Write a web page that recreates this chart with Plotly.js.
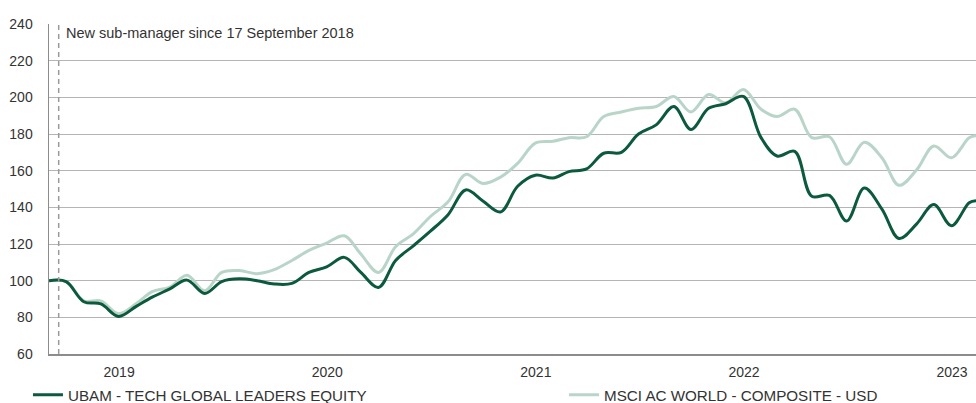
<!DOCTYPE html>
<html>
<head>
<meta charset="utf-8">
<script src="https://cdn.plot.ly/plotly-3.0.1.min.js"></script>
<style>
html,body{margin:0;padding:0;background:#fff;}
#chart{width:976px;height:403px;}
</style>
</head>
<body>
<div id="chart"></div>
<script>
const dates = [
 '2018-08-31','2018-09-30','2018-10-31','2018-11-30','2018-12-31',
 '2019-01-31','2019-02-28','2019-03-31','2019-04-30','2019-05-31','2019-06-30',
 '2019-07-31','2019-08-31','2019-09-30','2019-10-31','2019-11-30','2019-12-31',
 '2020-01-31','2020-02-29','2020-03-31','2020-04-30','2020-05-31','2020-06-30',
 '2020-07-31','2020-08-31','2020-09-30','2020-10-31','2020-11-30','2020-12-31',
 '2021-01-31','2021-02-28','2021-03-31','2021-04-30','2021-05-31','2021-06-30',
 '2021-07-31','2021-08-31','2021-09-30','2021-10-31','2021-11-30','2021-12-31',
 '2022-01-31','2022-02-28','2022-03-31','2022-04-30','2022-05-31','2022-06-30',
 '2022-07-31','2022-08-31','2022-09-30','2022-10-31','2022-11-30','2022-12-31',
 '2023-01-31','2023-02-12'
];
const ubam = [
 100, 99.5, 88.5, 87.3, 80.5,
 86, 91, 95.5, 100.3, 93, 99.5,
 101, 100, 98.2, 98.5, 104.5, 107.5,
 112.7, 104.5, 96.3, 111, 119, 127,
 136, 149.5, 143.5, 137.5, 151.5, 157.5,
 156, 159.5, 161, 169.5, 170, 180,
 185, 195, 182.5, 194, 196.5, 200.5,
 178, 168, 170.5, 146, 146.5, 132.5,
 150.5, 139, 123, 131, 141.5, 130,
 142.5, 143.6
];
const msci = [
 100, 99.5, 89, 89, 82,
 87.5, 94, 96.5, 103, 94.5, 104.5,
 105.5, 103.8, 106, 111, 116.5, 120.5,
 124.5, 114.5, 104.5, 118.5, 125.5, 135,
 143, 158, 153, 156.5, 164, 175,
 176, 178, 178.5, 189.5, 192, 194,
 195, 200.5, 192, 201.5, 197, 204.3,
 193.5, 189.5, 193.5, 178, 178.5, 163.5,
 175.5, 167, 152, 160.5, 173.5, 167,
 178, 179
];
const seriesNames = ['UBAM - TECH GLOBAL LEADERS EQUITY', 'MSCI AC WORLD - COMPOSITE - USD'];
const yearTicks = ['2019-01-01','2020-01-01','2021-01-01','2022-01-01','2023-01-01'];
const yearLabels = ['2019','2020','2021','2022','2023'];
const yTicks = [60,80,100,120,140,160,180,200,220,240];
const eventDate = '2018-09-17';
const eventText = 'New sub-manager since 17 September 2018';
const xRange = ['2018-08-31','2023-02-12'];

const FONT = '"Liberation Sans", Arial, Helvetica, sans-serif';

const traces = [
 {x: dates, y: msci, name: seriesNames[1], type: 'scatter', mode: 'lines', legend: 'legend2',
  line: {color: '#b9d5c9', width: 3, shape: 'spline', smoothing: 1}},
 {x: dates, y: ubam, name: seriesNames[0], type: 'scatter', mode: 'lines', legend: 'legend',
  line: {color: '#0b5a3d', width: 3, shape: 'spline', smoothing: 1}}
];

const legendBase = {orientation: 'h', xanchor: 'left', y: -0.124, yanchor: 'middle',
  bgcolor: 'rgba(0,0,0,0)', font: {family: FONT, size: 15.2, color: '#333'}, itemwidth: 30};

const layout = {
 width: 976, height: 403,
 margin: {l: 49, r: 0, t: 24, b: 49, pad: 0, autoexpand: false},
 paper_bgcolor: '#fff', plot_bgcolor: '#fff',
 font: {family: FONT, size: 14, color: '#333'},
 showlegend: true,
 legend: Object.assign({}, legendBase, {x: -0.0227}),
 legend2: Object.assign({}, legendBase, {x: 0.5556}),
 xaxis: {type: 'date', range: xRange, tickmode: 'array', tickvals: yearTicks, ticktext: yearLabels,
   showgrid: false, showline: true, linecolor: '#8c8c8c', linewidth: 1.5, ticks: '',
   zeroline: false, ticklabelstandoff: 5, fixedrange: true},
 yaxis: {range: [60, 240], tickmode: 'array', tickvals: yTicks, showgrid: true, gridcolor: '#b5b5b5',
   gridwidth: 1, showline: true, linecolor: '#8c8c8c', linewidth: 1.5, ticks: '', zeroline: false,
   ticklabelstandoff: 12, fixedrange: true},
 shapes: [
  {type: 'line', xref: 'x', yref: 'paper', x0: eventDate, x1: eventDate, y0: 0, y1: 1,
   line: {color: '#9a9a9a', width: 1.5, dash: '5px,4px'}}
 ],
 annotations: [
  {xref: 'x', yref: 'paper', x: eventDate, y: 1, xanchor: 'left', yanchor: 'top',
   xshift: 5, yshift: 1, showarrow: false, text: eventText,
   font: {family: FONT, size: 14.5, color: '#333'}}
 ]
};

Plotly.newPlot('chart', traces, layout, {displayModeBar: false, staticPlot: true});
</script>
</body>
</html>
